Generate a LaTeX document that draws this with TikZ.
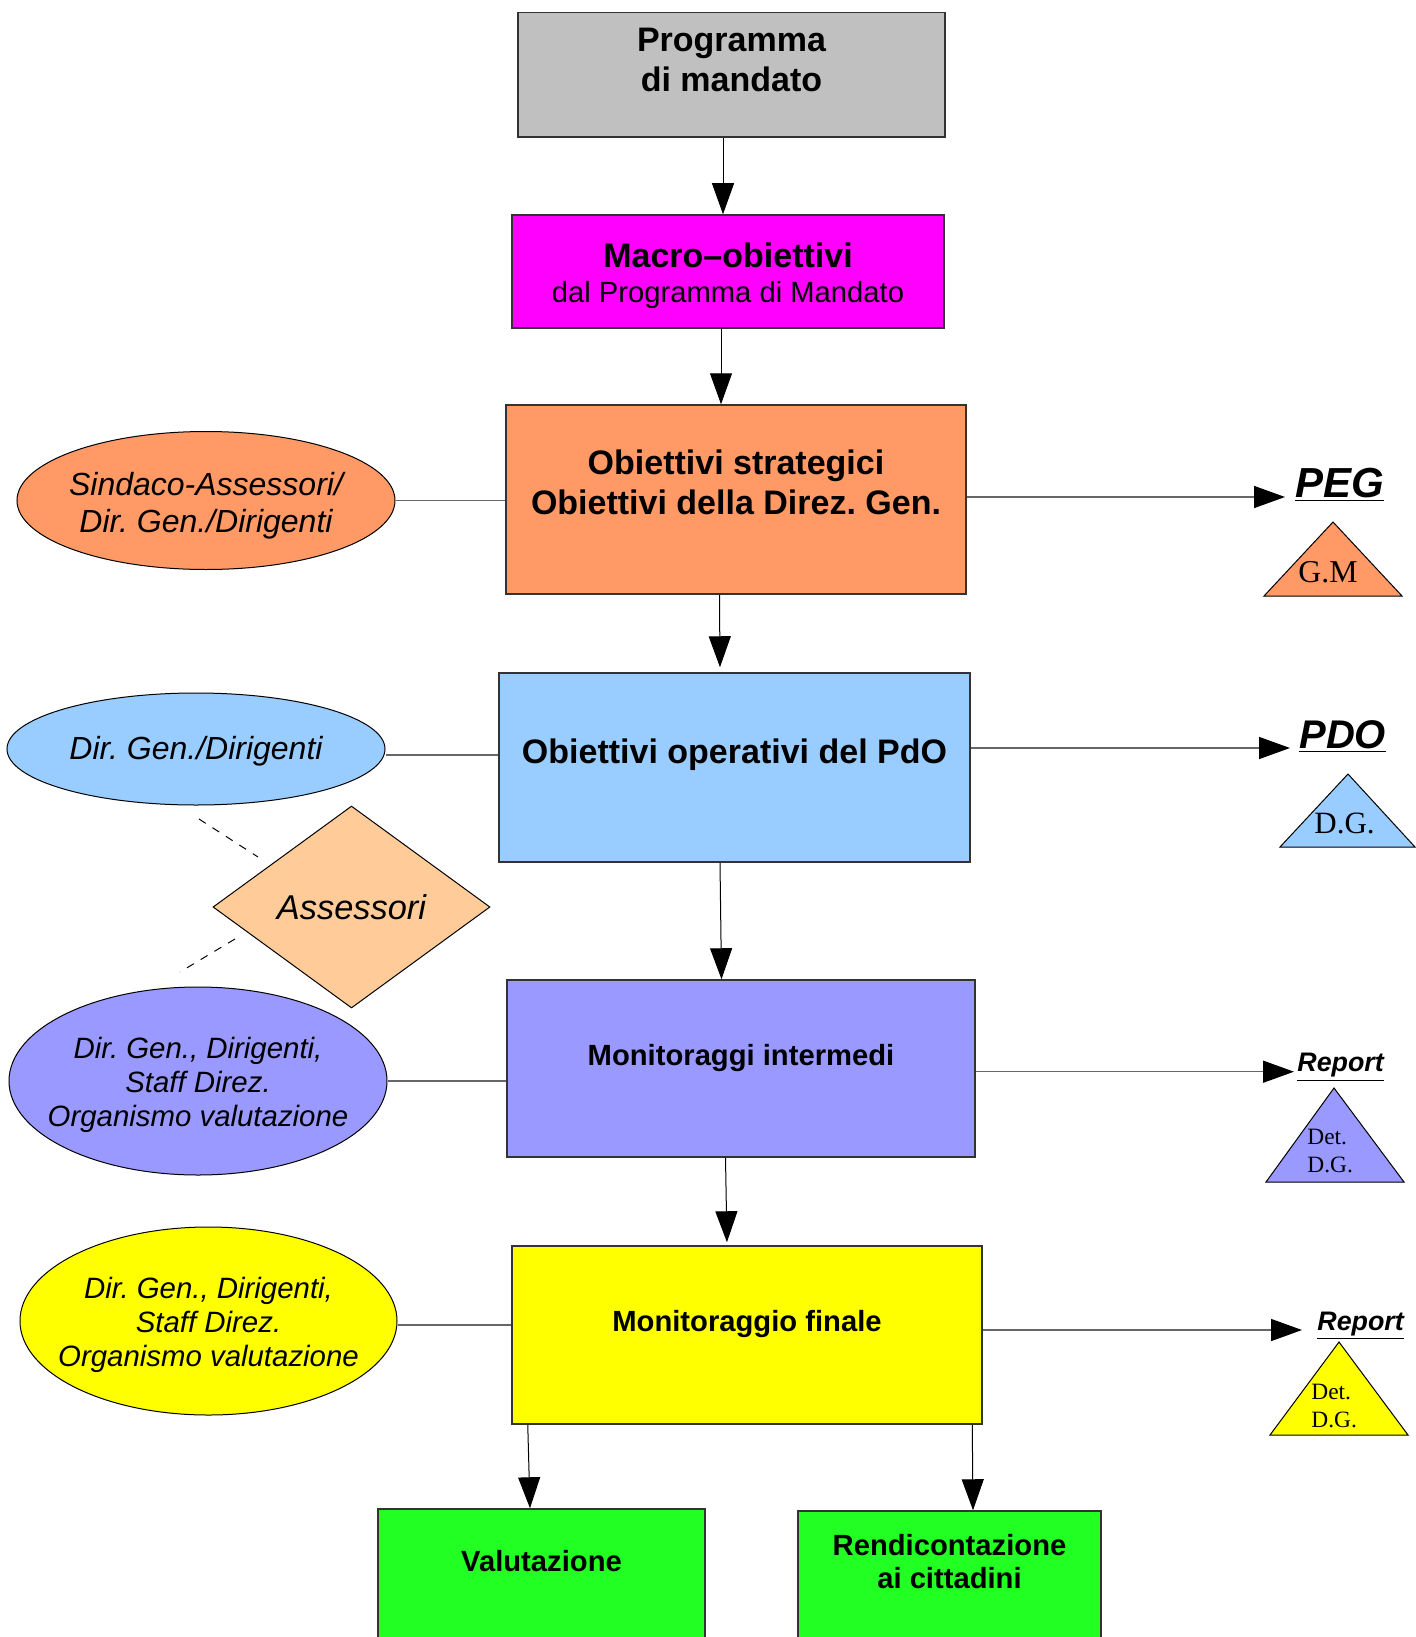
\documentclass[tikz,border=0pt]{standalone}
\usepackage{fontspec}
\setmainfont{Liberation Sans}
\newfontfamily\timesschrift{Liberation Serif}
\usepackage{xcolor}
\usetikzlibrary{shapes.geometric, arrows.meta}
\definecolor{grau}{RGB}{192,192,192}
\definecolor{rosa}{RGB}{255,0,255}
\definecolor{lachs}{RGB}{255,153,102}
\definecolor{hellblau}{RGB}{153,204,255}
\definecolor{lila}{RGB}{153,153,255}
\definecolor{gelb}{RGB}{255,255,0}
\definecolor{gruen}{RGB}{34,255,34}
\definecolor{pfirsich}{RGB}{255,204,153}
\newcommand{\groesse}[2]{\fontsize{#1}{#2}\selectfont}
\newcommand{\kasten}[4]{\parbox[c][#2][t]{#1}{\centering\rule{0pt}{#3}#4}}
\frenchspacing

\begin{document}
\begin{tikzpicture}[x=0.5pt, y=-0.5pt,
    box/.style={rectangle, draw=black!80, line width=0.75pt, inner sep=0pt},
    oval/.style={ellipse, draw=black, line width=0.5pt, inner xsep=-10pt, inner ysep=0pt, align=center},
    raute/.style={diamond, draw=black, line width=0.5pt, inner sep=0pt},
    pfeil/.style={black, line width=0.5pt, -{Triangle[length=15.5pt, width=11pt]}},
    pfeilgrau/.style={draw=black!60, line width=0.75pt, -{Triangle[length=15.5pt, width=11pt, color=black]}},
    linie/.style={draw=black!60, line width=0.75pt},
    strich/.style={black, line width=0.5pt, dash pattern=on 4pt off 4pt},
    dreieck/.style={draw=black, line width=0.5pt},
    etikett/.style={anchor=base west, inner sep=0pt},
    dtext/.style={inner sep=0pt, align=left}]
    % Rahmen
    \useasboundingbox (0,0) rectangle (1415,1637);

    % Kaesten (Mitte)
    \node[box, fill=grau, font={\groesse{17pt}{20pt}\bfseries}] (prog) at (731.5,74.75)
        {\kasten{213.5pt}{62.25pt}{19.5pt}{Programma\\di mandato}};
    \node[box, fill=rosa, font={\groesse{14.6pt}{17.75pt}}] (makro) at (728,271.5)
        {\kasten{216pt}{56.5pt}{26pt}{{\groesse{17pt}{17.75pt}\bfseries Macro–obiettivi}\\dal Programma di Mandato}};
    \node[box, fill=lachs, font={\groesse{17pt}{19.75pt}\bfseries}] (strat) at (736,499.5)
        {\kasten{230pt}{94.5pt}{34.75pt}{Obiettivi strategici\\Obiettivi della Direz. Gen.}};
    \node[box, fill=hellblau, font={\groesse{17pt}{19.75pt}\bfseries}] (oper) at (734.5,767.5)
        {\kasten{235.5pt}{94.5pt}{45pt}{Obiettivi operativi del PdO}};
    \node[box, fill=lila, font={\groesse{14.6pt}{17pt}\bfseries}] (mon1) at (741,1068.5)
        {\kasten{234pt}{88.5pt}{42.5pt}{Monitoraggi intermedi}};
    \node[box, fill=gelb, font={\groesse{14.6pt}{17pt}\bfseries}] (mon2) at (747,1335)
        {\kasten{235pt}{89pt}{42.85pt}{Monitoraggio finale}};
    \node[box, fill=gruen, font={\groesse{14.6pt}{17pt}\bfseries}] (valu) at (541.5,1579)
        {\kasten{163.5pt}{70pt}{31pt}{Valutazione}};
    \node[box, fill=gruen, font={\groesse{14.6pt}{16.3pt}\bfseries}] (rend) at (949.5,1581)
        {\kasten{151.5pt}{70pt}{22.35pt}{Rendicontazione\\ai cittadini}};

    % Ellipsen (links)
    \node[oval, fill=lachs, minimum width=189pt, minimum height=69pt, font={\groesse{16pt}{18.8pt}\itshape}] (e1) at (206,500.5)
        {\rule{0pt}{17pt}Sindaco-Assessori/\\Dir. Gen./Dirigenti};
    \node[oval, fill=hellblau, minimum width=189pt, minimum height=56pt, font={\groesse{16pt}{18pt}\itshape}] (e2) at (196,749)
        {\rule{0pt}{13.9pt}Dir. Gen./Dirigenti};
    \node[oval, fill=lila, minimum width=189pt, minimum height=94pt, font={\groesse{14.7pt}{17pt}\itshape}] (e3) at (198,1081)
        {\rule{0pt}{14.9pt}Dir. Gen., Dirigenti,\\Staff Direz.\\Organismo valutazione};
    \node[oval, fill=gelb, minimum width=188.5pt, minimum height=94pt, font={\groesse{14.7pt}{17pt}\itshape}] (e4) at (208.5,1321)
        {\rule{0pt}{14.9pt}Dir. Gen., Dirigenti,\\Staff Direz.\\Organismo valutazione};

    % Raute
    \node[raute, fill=pfirsich, minimum width=138.5pt, minimum height=101pt, font={\groesse{17.2pt}{18pt}\itshape}] (ass) at (351.5,907) {Assessori};
    \coordinate (d1) at (199,819);
    \coordinate (d2) at (258,857);
    \coordinate (d3) at (235,939);
    \coordinate (d4) at (180,972);
    \draw[strich] (d1) -- (d2);
    \draw[strich] (d3) -- (d4);

    % Beschriftungen (rechts)
    \node[etikett, font={\groesse{21pt}{21pt}\bfseries\itshape}] (peg) at (1295,497) {\underline{PEG}};
    \node[etikett, font={\groesse{20pt}{20pt}\bfseries\itshape}] (pdo) at (1299,748) {\underline{PDO}};
    \node[etikett, font={\groesse{13.4pt}{14pt}\bfseries\itshape}] (rep1) at (1297,1071.7) {\underline{Report}};
    \node[etikett, font={\groesse{13.4pt}{14pt}\bfseries\itshape}] (rep2) at (1317,1330) {\underline{Report}};

    % Dreiecke
    \draw[dreieck, fill=lachs] (1264,596) -- (1333,522) -- (1402,596) -- cycle;
    \node[dtext, anchor=base west, font={\timesschrift\groesse{15.9pt}{16pt}}] (gm) at (1298,582) {G.M};
    \draw[dreieck, fill=hellblau] (1280,847) -- (1348,774) -- (1415,847) -- cycle;
    \node[dtext, anchor=base west, font={\timesschrift\groesse{15.5pt}{16pt}}] (dg) at (1314,833) {D.G.};
    \draw[dreieck, fill=lila] (1266,1182) -- (1334,1088) -- (1404,1182) -- cycle;
    \node[dtext, anchor=west, font={\timesschrift\groesse{11.7pt}{13.85pt}}] (det1) at (1307,1151) {Det.\\D.G.};
    \draw[dreieck, fill=gelb] (1270,1435) -- (1339,1342) -- (1408,1435) -- cycle;
    \node[dtext, anchor=west, font={\timesschrift\groesse{11.7pt}{13.85pt}}] (det2) at (1311,1405.75) {Det.\\D.G.};

    % Pfeile nach unten
    \draw[pfeil] ([xshift=-4.25pt]prog.south) -- ([xshift=-2.5pt]makro.north);
    \draw[pfeil] ([xshift=-3.5pt]makro.south) -- ([xshift=-7.5pt]strat.north);
    \draw[pfeil, shorten >=2.5pt] ([xshift=-8.25pt]strat.south) -- ([xshift=-7.25pt]oper.north);
    \draw[pfeil] ([xshift=-7.25pt]oper.south) -- ([xshift=-9.75pt]mon1.north);
    \draw[pfeil, shorten >=1.5pt] ([xshift=-7.75pt]mon1.south) -- ([xshift=-10pt]mon2.north);
    \draw[pfeil] ([xshift=8.25pt]mon2.south west) -- ([xshift=-5.75pt]valu.north);
    \draw[pfeil] ([xshift=-5.25pt]mon2.south east) -- ([xshift=11.75pt]rend.north);

    % Verbindungen links
    \draw[linie] (e1.east) -- (e1.east -| strat.west);
    \draw[linie] ([yshift=-3pt]e2.east) -- ([yshift=-3pt]e2.east -| oper.west);
    \draw[linie] (e3.east) -- (e3.east -| mon1.west);
    \draw[linie] ([yshift=-2pt]e4.east) -- ([yshift=-2pt]e4.east -| mon2.west);

    % Pfeile nach rechts
    \draw[pfeilgrau] (strat.east |- peg.base) -- ([xshift=-5pt]peg.base west);
    \draw[pfeilgrau] (oper.east |- pdo.base) -- ([xshift=-4.5pt]pdo.base west);
    \draw[pfeilgrau] (mon1.east |- rep1.base) -- ([xshift=-1.5pt]rep1.base west);
    \draw[pfeilgrau] (mon2.east |- rep2.base) -- ([xshift=-7.5pt]rep2.base west);
\end{tikzpicture}
\end{document}
